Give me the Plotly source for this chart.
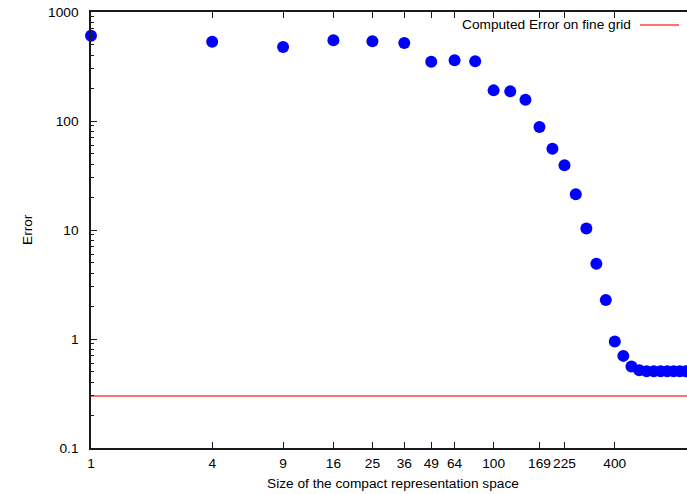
import plotly.graph_objects as go

# Size of the compact representation space (perfect squares) and the error measured there
sizes = [1, 4, 9, 16, 25, 36, 49, 64, 81, 100, 121, 144, 169, 196, 225, 256,
         289, 324, 361, 400, 441, 484, 529, 576, 625, 676, 729, 784, 841, 900]
errors = [606, 534, 478, 550, 538, 520, 350, 361, 353, 191, 187, 157, 88, 55.7,
          39.2, 21.3, 10.3, 4.91, 2.28, 0.95, 0.70, 0.56, 0.516, 0.505, 0.505,
          0.505, 0.505, 0.505, 0.505, 0.505]

# Reference level: error computed on the fine grid
fine_grid_error = 0.3
fine_grid_label = "Computed Error on fine grid"

x_tick_vals = [1, 4, 9, 16, 25, 36, 49, 64, 100, 169, 225, 400]
y_tick_vals = [0.1, 1, 10, 100, 1000]
y_tick_text = ["0.1", "1", "10", "100", "1000"]
y_minor_vals = [m * 10 ** k for k in (-1, 0, 1, 2) for m in range(2, 10)]

FONT = "Liberation Sans, Arial, sans-serif"
FS = 13.7
W, H = 687, 494
ML, MR, MT, MB = 91, 0, 12, 46
PW, PH = W - ML - MR, H - MT - MB

fig = go.Figure()

fig.add_trace(go.Scatter(
    x=sizes, y=errors, mode="markers",
    marker=dict(color="#0000ff", size=12, line=dict(width=0)),
    showlegend=False, cliponaxis=False,
))

# horizontal fine-grid level across the full x range
fig.add_trace(go.Scatter(
    x=[sizes[0] * 0.5, sizes[-1] * 2], y=[fine_grid_error, fine_grid_error],
    mode="lines", line=dict(color="#ff4040", width=1.3),
    showlegend=False,
))

# invisible trace that carries the minor y ticks
fig.add_trace(go.Scatter(x=[sizes[0]], y=[errors[0]], yaxis="y2",
                         mode="markers", marker=dict(opacity=0),
                         showlegend=False, hoverinfo="skip"))

axis_common = dict(
    showgrid=False, zeroline=False, showline=True, linecolor="#1a1a1a",
    linewidth=1.5, ticks="inside", tickcolor="#1a1a1a", tickwidth=1,
    tickfont=dict(family=FONT, size=FS, color="#000"),
)

fig.update_layout(
    width=W, height=H,
    margin=dict(l=ML, r=MR, t=MT, b=MB, pad=0),
    paper_bgcolor="white", plot_bgcolor="white",
    font=dict(family=FONT, size=FS, color="#000"),
    xaxis=dict(
        type="log", range=[0, PW / 201.3],
        tickvals=x_tick_vals, ticktext=[str(v) for v in x_tick_vals],
        ticklen=6, mirror="ticks", ticklabelstandoff=2, tickangle=0,
        **axis_common,
    ),
    yaxis=dict(
        type="log", range=[-1, 3],
        tickvals=y_tick_vals, ticktext=y_tick_text,
        ticklen=6, mirror=False, ticklabelstandoff=8,
        **axis_common,
    ),
    yaxis2=dict(
        type="log", range=[-1, 3], overlaying="y", side="left",
        tickvals=y_minor_vals, ticks="inside", ticklen=3, tickwidth=1,
        tickcolor="#1a1a1a", showticklabels=False, showgrid=False,
        zeroline=False, showline=False,
    ),
    showlegend=False,
)

# axis titles
fig.add_annotation(text="Size of the compact representation space",
                   xref="paper", yref="paper", x=(393 - ML) / PW,
                   y=-(483 - MT - PH) / PH, showarrow=False,
                   xanchor="center", yanchor="middle",
                   font=dict(family=FONT, size=FS, color="#000"))
fig.add_annotation(text="Error", textangle=-90,
                   xref="paper", yref="paper", x=(27 - ML) / PW, y=0.5,
                   showarrow=False, xanchor="center", yanchor="middle",
                   font=dict(family=FONT, size=FS, color="#000"))

# key: label followed by a line sample in the top-right corner
key_y = (MT + PH - 25) / PH
fig.add_annotation(text=fine_grid_label, xref="paper", yref="paper",
                   x=(633 - ML) / PW, y=key_y, showarrow=False,
                   xanchor="right", yanchor="middle",
                   font=dict(family=FONT, size=FS, color="#000"))
fig.add_shape(type="line", xref="paper", yref="paper",
              x0=(640 - ML) / PW, x1=(679 - ML) / PW, y0=key_y, y1=key_y,
              line=dict(color="#ff4040", width=1.3))

fig.write_html("out.html")
